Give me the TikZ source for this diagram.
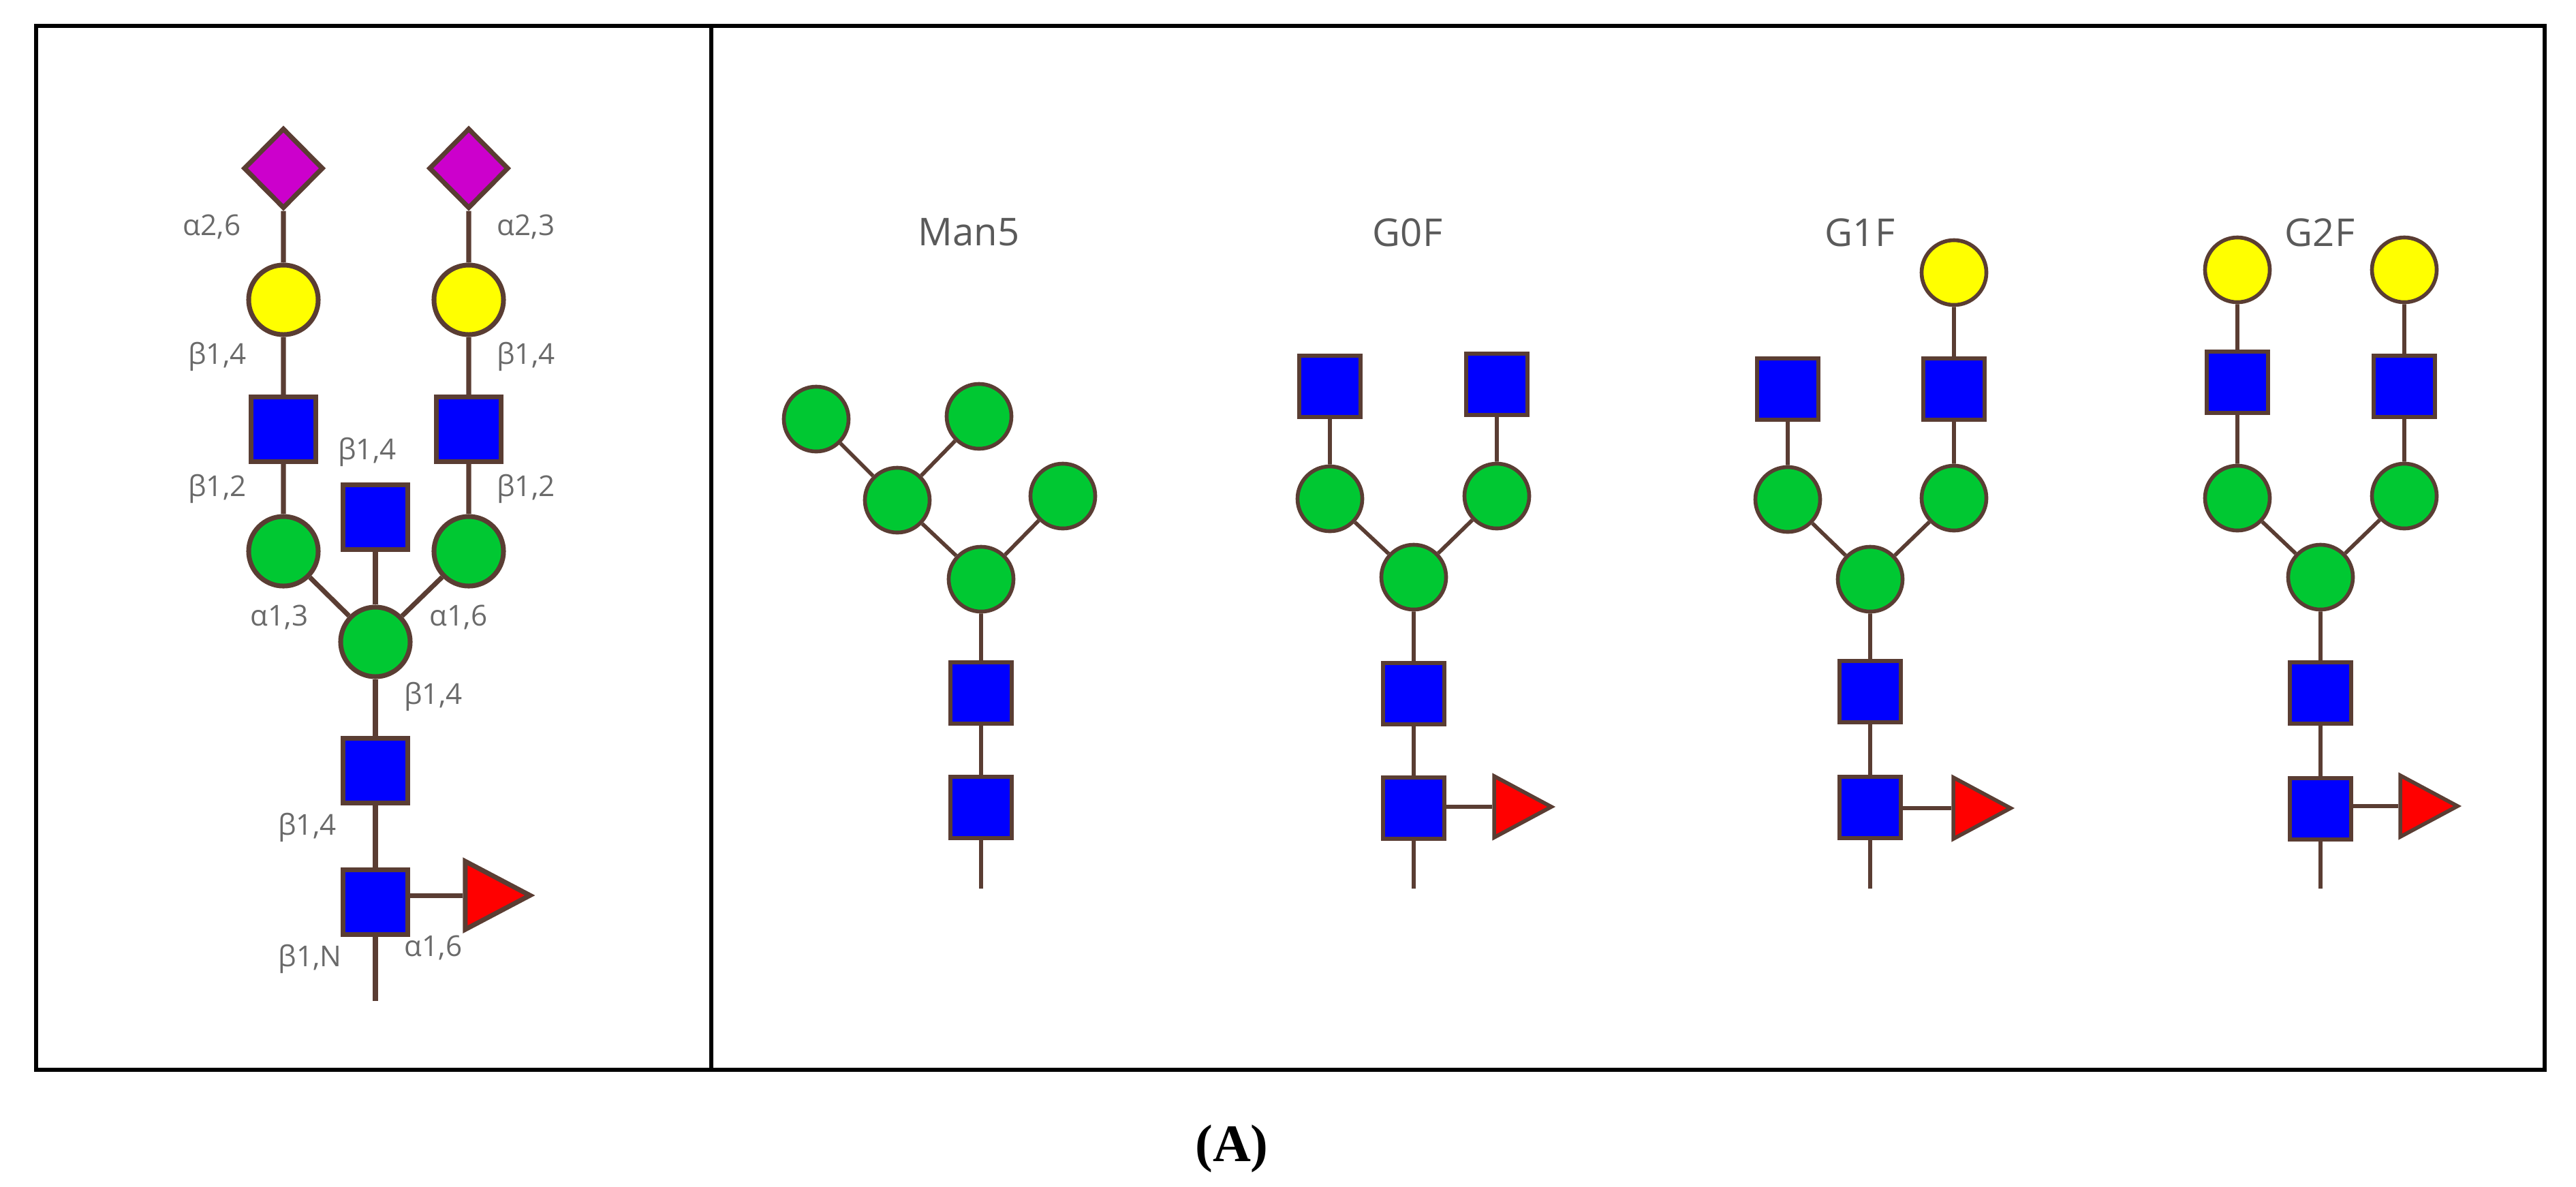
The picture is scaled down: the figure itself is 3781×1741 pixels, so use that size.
\documentclass[tikz,border=0pt]{standalone}
\usepackage{fontspec}
\setmainfont{Open Sans}
\newfontfamily\legende{Liberation Serif}
\usetikzlibrary{shapes.geometric}
\definecolor{lienc}{HTML}{5A3D33}
\definecolor{manc}{HTML}{00C832}
\definecolor{glcc}{HTML}{0000FF}
\definecolor{galc}{HTML}{FFFF00}
\definecolor{fucc}{HTML}{FF0000}
\definecolor{neuc}{HTML}{CC00CC}
\definecolor{textec}{HTML}{6A6A6A}
\tikzset{
  man/.style={circle,draw=lienc,fill=manc,inner sep=0pt,minimum size=#1},
  man/.default=0.95cm,
  gal/.style={circle,draw=lienc,fill=galc,inner sep=0pt,minimum size=#1},
  gal/.default=0.95cm,
  glc/.style={rectangle,draw=lienc,fill=glcc,inner sep=0pt,minimum size=#1},
  glc/.default=0.9cm,
  fuc/.style={isosceles triangle,isosceles triangle stretches,draw=lienc,fill=fucc,inner sep=0pt,minimum width=0.9cm,minimum height=0.84cm},
  neu/.style={diamond,draw=lienc,fill=neuc,inner sep=0pt,minimum width=1.17cm,minimum height=1.18cm},
  lien/.style={draw=lienc},
  lab/.style={text=textec,font=\fontsize{12}{13}\selectfont,inner sep=0pt},
  nom/.style={text=textec!85!black,font=\fontsize{16}{17}\selectfont,inner sep=0pt}
}
\begin{document}
\begin{tikzpicture}[x=0.01cm,y=-0.01cm]
\useasboundingbox (0,0) rectangle (3781,1741);
% cadre
\draw[line width=1.9pt] (53,38) rectangle (3735,1570);
\draw[line width=1.9pt] (1044,38) -- (1044,1570);
\node[font=\legende\bfseries\fontsize{22}{24}\selectfont] (lega) at (1808,1686) {(A)};
% structure complete
\begin{scope}[line width=2pt]
\node[neu] (n1) at (416,247) {};
\node[neu] (n2) at (688,247) {};
\node[gal=1.02cm] (g1) at (416,440) {};
\node[gal=1.02cm] (g2) at (688,440) {};
\node[glc=0.95cm] (s1) at (416,630) {};
\node[glc=0.95cm] (s2) at (688,630) {};
\node[glc=0.95cm] (s3) at (551,759) {};
\node[man=1.02cm] (m1) at (416,809) {};
\node[man=1.02cm] (m2) at (688,809) {};
\node[man=1.02cm] (m3) at (551,942) {};
\node[glc=0.95cm] (s4) at (551,1131) {};
\node[glc=0.95cm] (s5) at (551,1324) {};
\node[fuc,minimum width=1.0cm,minimum height=0.95cm] (f1) at (713,1314) {};
\coordinate (b1) at (551,1469);
\draw[lien] (n1) -- (g1) -- (s1) -- (m1) -- (m3);
\draw[lien] (n2) -- (g2) -- (s2) -- (m2) -- (m3);
\draw[lien] (s3) -- (m3) -- (s4) -- (s5) -- (b1);
\draw[lien] (f1.west -| s5.east) -- (f1.west);
% liaisons
\node[lab] (l1) at (311,333) {α2,6};
\node[lab] (l2) at (772,333) {α2,3};
\node[lab] (l3) at (319,523) {β1,4};
\node[lab] (l4) at (772,523) {β1,4};
\node[lab] (l5) at (539,663) {β1,4};
\node[lab] (l6) at (319,717) {β1,2};
\node[lab] (l7) at (772,717) {β1,2};
\node[lab] (l8) at (410,906) {α1,3};
\node[lab] (l9) at (673,906) {α1,6};
\node[lab] (l10) at (636,1022) {β1,4};
\node[lab] (l11) at (451,1214) {β1,4};
\node[lab] (l12) at (636,1391) {α1,6};
\node[lab] (l13) at (455,1407) {β1,N};
\end{scope}
\begin{scope}[line width=1.6pt]
% Man5
\node[nom] (t1) at (1422,341) {Man5};
\node[man] (a1) at (1198,615) {};
\node[man] (a2) at (1437,611) {};
\node[man] (a3) at (1317,734) {};
\node[man] (a4) at (1560,728) {};
\node[man] (a5) at (1440,850) {};
\node[glc] (a6) at (1440,1017) {};
\node[glc] (a7) at (1440,1185) {};
\coordinate (b2) at (1440,1304);
\draw[lien] (a1) -- (a3) -- (a5) -- (a6) -- (a7) -- (b2);
\draw[lien] (a2) -- (a3);
\draw[lien] (a4) -- (a5);
% G0F
\node[nom] (t2) at (2066,341) {G0F};
\node[glc] (c1) at (1952,567) {};
\node[glc] (c2) at (2197,564) {};
\node[man] (c3) at (1952,732) {};
\node[man] (c4) at (2197,728) {};
\node[man] (c5) at (2075,847) {};
\node[glc] (c6) at (2075,1018) {};
\node[glc] (c7) at (2075,1186) {};
\node[fuc] (c8) at (2220,1184) {};
\coordinate (b3) at (2075,1304);
\draw[lien] (c1) -- (c3) -- (c5) -- (c6) -- (c7) -- (b3);
\draw[lien] (c2) -- (c4) -- (c5);
\draw[lien] (c8.west -| c7.east) -- (c8.west);
% G1F
\node[nom] (t3) at (2730,341) {G1F};
\node[gal] (d1) at (2868,400) {};
\node[glc] (d2) at (2624,571) {};
\node[glc] (d3) at (2868,571) {};
\node[man] (d4) at (2624,733) {};
\node[man] (d5) at (2868,731) {};
\node[man] (d6) at (2745,850) {};
\node[glc] (d7) at (2745,1015) {};
\node[glc] (d8) at (2745,1185) {};
\node[fuc] (d9) at (2894,1186) {};
\coordinate (b4) at (2745,1304);
\draw[lien] (d2) -- (d4) -- (d6) -- (d7) -- (d8) -- (b4);
\draw[lien] (d1) -- (d3) -- (d5) -- (d6);
\draw[lien] (d9.west -| d8.east) -- (d9.west);
% G2F
\node[nom] (t4) at (3405,341) {G2F};
\node[gal] (e1) at (3284,396) {};
\node[gal] (e2) at (3529,396) {};
\node[glc] (e3) at (3284,561) {};
\node[glc] (e4) at (3529,567) {};
\node[man] (e5) at (3284,731) {};
\node[man] (e6) at (3529,728) {};
\node[man] (e7) at (3406,847) {};
\node[glc] (e8) at (3406,1017) {};
\node[glc] (e9) at (3406,1187) {};
\node[fuc] (e10) at (3550,1183) {};
\coordinate (b5) at (3406,1304);
\draw[lien] (e1) -- (e3) -- (e5) -- (e7) -- (e8) -- (e9) -- (b5);
\draw[lien] (e2) -- (e4) -- (e6) -- (e7);
\draw[lien] (e10.west -| e9.east) -- (e10.west);
\end{scope}
\end{tikzpicture}
\end{document}
